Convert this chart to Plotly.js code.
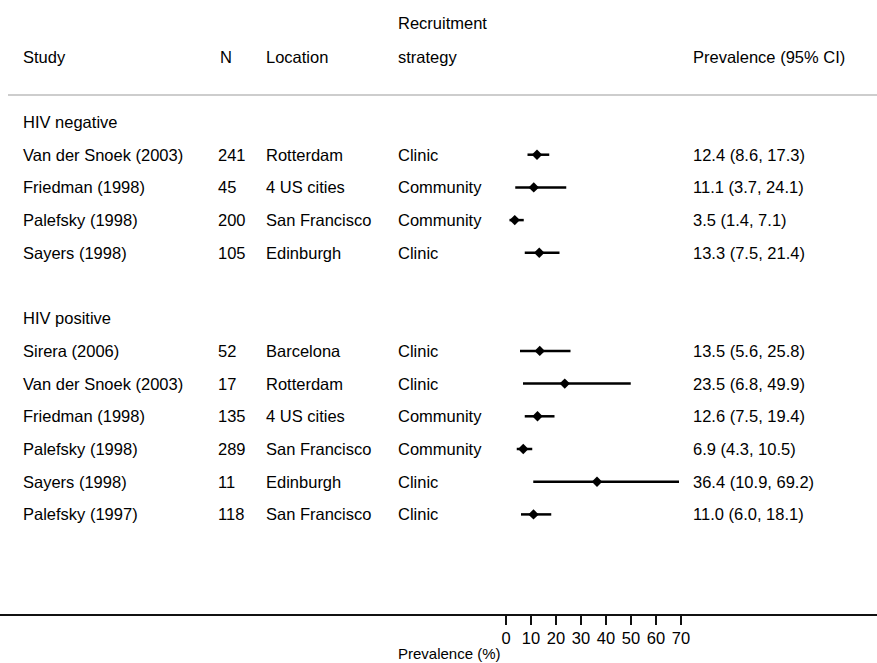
<!DOCTYPE html>
<html>
<head>
<meta charset="utf-8">
<script src="https://cdn.plot.ly/plotly-3.0.1.min.js"></script>
<style>
  html, body { margin: 0; padding: 0; background: #fff; }
  #chart { width: 877px; height: 663px; }
</style>
</head>
<body>
<div id="chart"></div>
<script>
// ---- Data ----
var groups = ["HIV negative", "HIV positive"];
var studyGroup = [0, 0, 0, 0, 1, 1, 1, 1, 1, 1];
var studies = ["Van der Snoek (2003)", "Friedman (1998)", "Palefsky (1998)", "Sayers (1998)",
               "Sirera (2006)", "Van der Snoek (2003)", "Friedman (1998)", "Palefsky (1998)", "Sayers (1998)", "Palefsky (1997)"];
var sampleN = [241, 45, 200, 105, 52, 17, 135, 289, 11, 118];
var locations = ["Rotterdam", "4 US cities", "San Francisco", "Edinburgh",
                 "Barcelona", "Rotterdam", "4 US cities", "San Francisco", "Edinburgh", "San Francisco"];
var strategies = ["Clinic", "Community", "Community", "Clinic",
                  "Clinic", "Clinic", "Community", "Community", "Clinic", "Clinic"];
var prevalence = [12.4, 11.1, 3.5, 13.3, 13.5, 23.5, 12.6, 6.9, 36.4, 11.0];
var lower = [8.6, 3.7, 1.4, 7.5, 5.6, 6.8, 7.5, 4.3, 10.9, 6.0];
var upper = [17.3, 24.1, 7.1, 21.4, 25.8, 49.9, 19.4, 10.5, 69.2, 18.1];
var tickVals = [0, 10, 20, 30, 40, 50, 60, 70];
var headers = {study: "Study", n: "N", location: "Location", strategy1: "Recruitment", strategy2: "strategy", prev: "Prevalence (95% CI)"};
var axisLabel = "Prevalence (%)";

// ---- Layout constants ----
var W = 877, H = 663;
var FS = 16.5;
var FONT = "Liberation Sans, Arial, sans-serif";
var px0 = 506, pxPerUnit = 2.5;          // pixel of x=0, scale
var rowTop = 122, rowH = 32.7;            // pixel centre of row 0, row spacing
var axisPix = 614;                        // pixel of axis line
var colX = {study: 22, n: 217, location: 265, strategy: 397, prev: 692};

function px2paper(p) { return p / W; }

// assign rows
var rowOf = [];
var groupRow = [];
var r = 0, lastG = -1;
for (var i = 0; i < studies.length; i++) {
  if (studyGroup[i] !== lastG) {
    if (lastG !== -1) r += 1; // blank row between groups
    groupRow.push(r);
    r += 1;
    lastG = studyGroup[i];
  }
  rowOf.push(r);
  r += 1;
}

var plotH = axisPix; // plot area from 0 to axisPix
var yTop = -rowTop / rowH;
var yBot = (axisPix - rowTop) / rowH;
var xMin = -px0 / pxPerUnit;
var xMax = (W - px0) / pxPerUnit;

// traces
var lx = [], ly = [];
for (var i = 0; i < studies.length; i++) {
  lx.push(lower[i], upper[i], null);
  ly.push(rowOf[i], rowOf[i], null);
}
var ciTrace = {
  x: lx, y: ly, mode: "lines", type: "scatter",
  line: {color: "#000", width: 2.5}, hoverinfo: "skip", showlegend: false
};
var ptTrace = {
  x: prevalence, y: rowOf, mode: "markers", type: "scatter",
  marker: {symbol: "diamond", size: 8, color: "#000"}, showlegend: false
};

// annotations
var ann = [];
function addText(txt, xpix, row, extra) {
  var a = {text: txt, x: px2paper(xpix - 1), xref: "paper", y: row, yref: "y",
           xanchor: "left", yanchor: "middle", showarrow: false,
           font: {family: FONT, size: FS, color: "#000"}};
  if (extra) for (var k in extra) a[k] = extra[k];
  ann.push(a);
}
var hdrRow = -2;
addText(headers.study, colX.study, hdrRow);
addText(headers.n, colX.n + 2, hdrRow);
addText(headers.location, colX.location, hdrRow);
addText(headers.strategy1, colX.strategy, hdrRow - 1.04);
addText(headers.strategy2, colX.strategy, hdrRow);
addText(headers.prev, colX.prev, hdrRow);

for (var g = 0; g < groups.length; g++) addText(groups[g], colX.study, groupRow[g]);
for (var i = 0; i < studies.length; i++) {
  addText(studies[i], colX.study, rowOf[i]);
  addText(String(sampleN[i]), colX.n, rowOf[i]);
  addText(locations[i], colX.location, rowOf[i]);
  addText(strategies[i], colX.strategy, rowOf[i]);
  addText(prevalence[i].toFixed(1) + " (" + lower[i].toFixed(1) + ", " + upper[i].toFixed(1) + ")", colX.prev, rowOf[i]);
}
// axis label
ann.push({text: axisLabel, x: px2paper(449), xref: "paper", y: -(653 - axisPix) / plotH, yref: "paper",
          xanchor: "center", yanchor: "middle", showarrow: false,
          font: {family: FONT, size: 15, color: "#000"}});

var sepRow = (95 - rowTop) / rowH;

var layout = {
  width: W, height: H,
  margin: {l: 0, r: 0, t: 0, b: H - axisPix, pad: 0},
  paper_bgcolor: "#fff", plot_bgcolor: "#fff",
  showlegend: false,
  xaxis: {
    range: [xMin, xMax], showgrid: false, zeroline: false,
    showline: true, linecolor: "#111", linewidth: 1.5,
    tickmode: "array", tickvals: tickVals, ticktext: tickVals.map(String),
    ticks: "outside", ticklen: 9, tickwidth: 1.5, tickcolor: "#111",
    tickfont: {family: FONT, size: FS, color: "#000"}, fixedrange: true
  },
  yaxis: {
    range: [yBot, yTop], showgrid: false, zeroline: false, showline: false,
    showticklabels: false, ticks: "", fixedrange: true
  },
  shapes: [{type: "line", xref: "paper", yref: "y", x0: px2paper(8), x1: 1, y0: sepRow, y1: sepRow,
            line: {color: "#bdbdbd", width: 1.5}}],
  annotations: ann,
  font: {family: FONT, size: FS, color: "#000"}
};

Plotly.newPlot("chart", [ciTrace, ptTrace], layout, {displayModeBar: false, staticPlot: true});
</script>
</body>
</html>
